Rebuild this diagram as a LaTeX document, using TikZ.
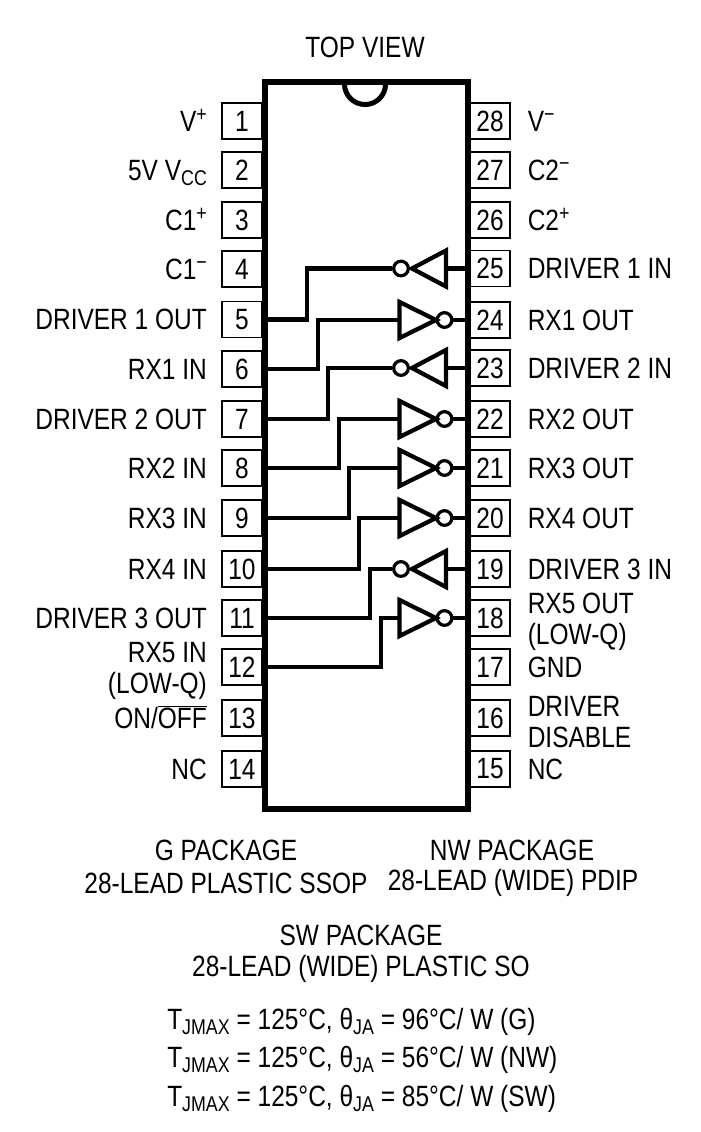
\documentclass[tikz,border=0pt]{standalone}
\usepackage{fontspec}
\setmainfont{Liberation Sans}[FakeStretch=0.835]
\usetikzlibrary{positioning}
\newcommand{\subtxt}[1]{\raisebox{-4pt}{\fontsize{16}{16}\selectfont #1}}
\newcommand{\uptxt}[1]{\raisebox{7.5pt}{\fontsize{16}{16}\selectfont #1}}
\tikzset{
  pinbox/.style={draw, line width=1.3pt, inner sep=0pt, minimum width=30pt, minimum height=27pt},
  chip/.style={draw, line width=4.5pt, inner sep=0pt, minimum width=152pt, minimum height=545pt},
  wire/.style={line width=3.3pt},
  gate/.style={line width=3.2pt, line join=miter},
  bubble/.style={draw, circle, line width=2.4pt, inner sep=0pt, minimum size=11pt},
  lab/.style={inner sep=0pt, text height=15.5pt, text depth=0pt},
  twolab/.style={inner sep=0pt, yshift=-3pt, font=\fontsize{22}{23.5}\selectfont},
  txt/.style={inner sep=0pt}
}
\begin{document}
\begin{tikzpicture}[x=0.75pt, y=-0.75pt, font=\fontsize{22}{25}\selectfont]
  \useasboundingbox (0,0) rectangle (700,1132);
  % pins, left side
  \foreach \n/\y in {1/121,2/170,3/220,4/269,5/319.5,6/369,7/419,8/468,9/518,10/569,11/618,12/667,13/718,14/769}
    \node[pinbox] (p\n) at (242,\y) {\n};
  % pins, right side
  \foreach \n/\y in {28/121,27/170,26/220,25/268.5,24/320,23/368,22/419,21/468,20/518,19/569,18/618,17/667,16/718,15/769}
    \node[pinbox] (p\n) at (490,\y) {\n};
  \node[chip] (body) at (366.5,445.5) {};
  \draw[line width=3.75pt] (344.5,84) arc[start angle=180, end angle=360, radius=15.4pt];
  % pin names
  \foreach \n/\t in {1/V\uptxt{+},2/5V V\subtxt{CC},3/C1\uptxt{+},4/C1\uptxt{−},
      5/DRIVER 1 OUT,6/RX1 IN,7/DRIVER 2 OUT,8/RX2 IN,9/RX3 IN,10/RX4 IN,11/DRIVER 3 OUT,
      13/{ON/$\overline{\mbox{OFF}}$},14/NC}
    \node[lab, left=10.5pt of p\n] (l\n) {\t};
  \foreach \n/\t in {28/V\uptxt{−},27/C2\uptxt{−},26/C2\uptxt{+},25/DRIVER 1 IN,
      24/RX1 OUT,23/DRIVER 2 IN,22/RX2 OUT,21/RX3 OUT,20/RX4 OUT,19/DRIVER 3 IN,17/GND,15/NC}
    \node[lab, right=12.5pt of p\n] (l\n) {\t};
  \node[twolab, align=right, left=10.5pt of p12] (l12) {RX5 IN\\(LOW-Q)};
  \node[twolab, align=left, right=12.5pt of p18] (l18) {RX5 OUT\\(LOW-Q)};
  \node[twolab, align=left, right=12.5pt of p16] (l16) {DRIVER\\DISABLE};
  % drivers
  \foreach \n in {25,23,19} {
    \node[bubble] (inv\n) at (401,0 |- p\n) {};
    \coordinate (in\n) at (inv\n.west);
    \draw[gate] (412,0 |- p\n) -- ++(34,-18) -- ++(0,36) -- cycle;
    \draw[wire] (446,0 |- p\n) -- (p\n.west);
  }
  % receivers
  \foreach \n in {24,22,21,20,18} {
    \node[bubble] (inv\n) at (444.5,0 |- p\n) {};
    \coordinate (in\n) at (399.5,0 |- p\n);
    \draw[gate] (in\n) -- ++(0,-18) -- ++(36.5,18) -- ++(-36.5,18) -- cycle;
    \draw[wire] (inv\n.east) -- (p\n.west);
  }
  % wires
  \foreach \a/\x/\b in {5/307/25,6/318/24,7/328/23,8/339/22,9/349/21,10/359/20,11/370/19,12/381/18}
    \draw[wire] (p\a.east) -- (\x,0 |- p\a) -- (\x,0 |- in\b) -- (in\b);
  % text
  \node[txt] (topview) at (365,47) {TOP VIEW};
  \node[txt] (gpack) at (226,850) {G PACKAGE};
  \node[txt] (glead) at (226,883) {28-LEAD PLASTIC SSOP};
  \node[txt] (nwpack) at (512,850) {NW PACKAGE};
  \node[txt] (nwlead) at (513,883) {28-LEAD (WIDE) PDIP};
  \node[txt] (swpack) at (361,935) {SW PACKAGE};
  \node[txt] (swlead) at (361,969) {28-LEAD (WIDE) PLASTIC SO};
  \node[txt, anchor=west] (tg) at (167,1022) {T\subtxt{JMAX} = 125°C, θ\subtxt{JA} = 96°C/ W (G)};
  \node[txt, anchor=west] (tnw) at (167,1060) {T\subtxt{JMAX} = 125°C, θ\subtxt{JA} = 56°C/ W (NW)};
  \node[txt, anchor=west] (tsw) at (167,1099) {T\subtxt{JMAX} = 125°C, θ\subtxt{JA} = 85°C/ W (SW)};
\end{tikzpicture}
\end{document}
